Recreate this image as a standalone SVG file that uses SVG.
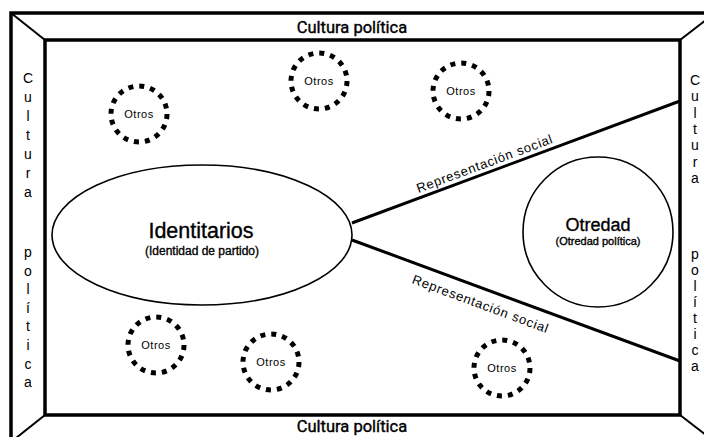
<svg xmlns="http://www.w3.org/2000/svg" width="704" height="437" viewBox="0 0 704 437">
<style>
.frame{fill:none;stroke:#000;stroke-width:3.5}
.thin{fill:none;stroke:#000;stroke-width:2}
.conn{fill:none;stroke:#000;stroke-width:3}
.dots{fill:#fff;stroke:#000;stroke-width:5;stroke-dasharray:5 6}
.node{fill:#fff;stroke:#000;stroke-width:1.6}
.lbl{font-family:Roboto,"Liberation Sans",sans-serif;font-size:16.5px;fill:#000;stroke:#000;stroke-width:0.4;text-anchor:middle}
.vert{font-family:"Liberation Sans",Arial,sans-serif;font-size:14px;fill:#000;text-anchor:middle}
.otros{font-family:"Liberation Sans",Arial,sans-serif;font-size:11px;letter-spacing:0.5px;fill:#000;text-anchor:middle}
.rep{font-family:"Liberation Sans",Arial,sans-serif;font-size:13px;letter-spacing:0.8px;fill:#000;text-anchor:middle}
.big{font-family:"Liberation Sans",Arial,sans-serif;fill:#000;stroke:#000;stroke-width:0.35;text-anchor:middle}
</style>
<rect width="704" height="437" fill="#fff"/>
<g id="frame">
<rect class="frame" x="11" y="13" width="704" height="429"/>
<rect class="frame" x="45" y="40" width="635" height="375"/>
<line class="thin" x1="11" y1="13" x2="45" y2="40"/>
<line class="thin" x1="715" y1="13" x2="680" y2="40"/>
<line class="thin" x1="11" y1="442" x2="45" y2="415"/>
<line class="thin" x1="715" y1="442" x2="680" y2="415"/>
<text class="lbl" x="352" y="33">Cultura política</text>
<text class="lbl" x="352" y="432">Cultura política</text>
<text class="vert" x="28"><tspan x="28" y="83">C</tspan><tspan x="28" y="102">u</tspan><tspan x="28" y="121">l</tspan><tspan x="28" y="140">t</tspan><tspan x="28" y="159">u</tspan><tspan x="28" y="178">r</tspan><tspan x="28" y="197">a</tspan><tspan x="28" y="257">p</tspan><tspan x="28" y="275.6">o</tspan><tspan x="28" y="294.2">l</tspan><tspan x="28" y="312.8">í</tspan><tspan x="28" y="331.4">t</tspan><tspan x="28" y="350">i</tspan><tspan x="28" y="368.6">c</tspan><tspan x="28" y="387.2">a</tspan></text>
<text class="vert" x="695"><tspan x="695" y="85">C</tspan><tspan x="695" y="101.3">u</tspan><tspan x="695" y="117.6">l</tspan><tspan x="695" y="133.9">t</tspan><tspan x="695" y="150.2">u</tspan><tspan x="695" y="166.5">r</tspan><tspan x="695" y="182.8">a</tspan><tspan x="695" y="259">p</tspan><tspan x="695" y="275">o</tspan><tspan x="695" y="291">l</tspan><tspan x="695" y="307">í</tspan><tspan x="695" y="323">t</tspan><tspan x="695" y="339">i</tspan><tspan x="695" y="355">c</tspan><tspan x="695" y="371">a</tspan></text>
</g>
<g id="connectors">
<line class="conn" x1="352" y1="223" x2="680" y2="101"/>
<line class="conn" x1="352" y1="240" x2="680" y2="361"/>
<text class="rep" transform="translate(488,172.4) rotate(-20.4)" x="0" y="-5">Representación social</text>
<text class="rep" transform="translate(486,289.4) rotate(20.3)" x="0" y="20">Representación social</text>
</g>
<g id="identitarios">
<ellipse class="node" cx="202" cy="235" rx="150" ry="70"/>
<text class="big" x="201" y="238" font-size="21.5">Identitarios</text>
<text class="big" x="202" y="255" font-size="12" stroke-width="0.25">(Identidad de partido)</text>
</g>
<g id="otredad">
<circle class="node" cx="598" cy="232" r="75"/>
<text class="big" x="598" y="231" font-size="18">Otredad</text>
<text class="big" x="598" y="245" font-size="11" stroke-width="0.25">(Otredad política)</text>
</g>
<g id="otros1"><circle class="dots" cx="139" cy="114" r="28"/><text class="otros" x="139" y="118">Otros</text></g>
<g id="otros2"><circle class="dots" cx="319" cy="81" r="28"/><text class="otros" x="319" y="85">Otros</text></g>
<g id="otros3"><circle class="dots" cx="461" cy="91" r="28"/><text class="otros" x="461" y="95">Otros</text></g>
<g id="otros4"><circle class="dots" cx="156" cy="345" r="28"/><text class="otros" x="156" y="349">Otros</text></g>
<g id="otros5"><circle class="dots" cx="271" cy="362" r="28"/><text class="otros" x="271" y="366">Otros</text></g>
<g id="otros6"><circle class="dots" cx="502" cy="368" r="28"/><text class="otros" x="502" y="372">Otros</text></g>
</svg>
